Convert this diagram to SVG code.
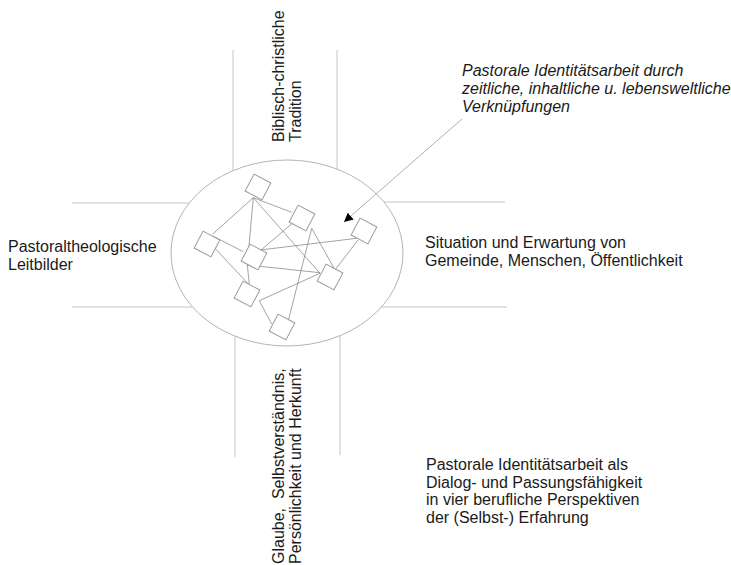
<svg xmlns="http://www.w3.org/2000/svg" width="731" height="565" viewBox="0 0 731 565">
<style>
.t{font-family:"Liberation Sans",Arial,sans-serif;font-size:16px;fill:#1a1a1a}
.i{font-style:italic}
.axis{stroke:#c4c4c4;stroke-width:1;fill:none}
.hub{stroke:#b4b4b4;stroke-width:1;fill:#fff}
.sq{stroke:#9a9a9a;stroke-width:1;fill:#fff}
.link{stroke:#8c8c8c;stroke-width:0.8;fill:none}
.arr{stroke:#b0b0b0;stroke-width:1;fill:none}
</style>
<defs>
<marker id="ah" viewBox="0 0 10 10" refX="10" refY="5" markerWidth="9" markerHeight="9" markerUnits="userSpaceOnUse" orient="auto">
<path d="M0,0 L10,5 L0,10 z" fill="#000"/>
</marker>
</defs>
<rect width="731" height="565" fill="#fff"/>
<g id="axes">
<line class="axis" x1="233" y1="50" x2="233" y2="170.7"/>
<line class="axis" x1="337" y1="50" x2="337" y2="169"/>
<line class="axis" x1="235" y1="336" x2="235" y2="457"/>
<line class="axis" x1="340" y1="336" x2="340" y2="455"/>
<line class="axis" x1="72" y1="203" x2="189" y2="203"/>
<line class="axis" x1="72" y1="307" x2="192.6" y2="307"/>
<line class="axis" x1="384" y1="202" x2="505" y2="202"/>
<line class="axis" x1="381.4" y1="307" x2="507" y2="307"/>
</g>
<g id="hub">
<ellipse class="hub" cx="287" cy="253" rx="116" ry="93"/>
</g>
<g id="connectors">
<line class="link" x1="253.3" y1="197.7" x2="212.7" y2="234"/>
<line class="link" x1="253.3" y1="197.7" x2="247.3" y2="265"/>
<line class="link" x1="247.3" y1="265" x2="249.3" y2="284"/>
<line class="link" x1="253.3" y1="197.7" x2="291.7" y2="212.3"/>
<line class="link" x1="253.3" y1="197.7" x2="320" y2="273.3"/>
<line class="link" x1="294" y1="222" x2="261" y2="250"/>
<line class="link" x1="311.7" y1="228.3" x2="288.3" y2="320.7"/>
<line class="link" x1="311.7" y1="228.3" x2="335" y2="270"/>
<line class="link" x1="356.7" y1="238.3" x2="260" y2="250"/>
<line class="link" x1="358" y1="240" x2="335" y2="270"/>
<line class="link" x1="212.7" y1="236" x2="243.3" y2="251.7"/>
<line class="link" x1="215" y1="248.3" x2="249.3" y2="285"/>
<line class="link" x1="247.3" y1="265" x2="320" y2="272.7"/>
<line class="link" x1="320" y1="273.3" x2="259.3" y2="300.7"/>
<line class="link" x1="259.3" y1="300.7" x2="271.7" y2="324"/>
<line class="arr" x1="462" y1="119" x2="344" y2="222" marker-end="url(#ah)"/>
</g>
<g id="sq1"><rect class="sq" x="-9.5" y="-9.5" width="19" height="19" transform="translate(258 187) rotate(28)"/></g>
<g id="sq2"><rect class="sq" x="-9.5" y="-9.5" width="19" height="19" transform="translate(302 218) rotate(28)"/></g>
<g id="sq3"><rect class="sq" x="-9.5" y="-9.5" width="19" height="19" transform="translate(364 231) rotate(28)"/></g>
<g id="sq4"><rect class="sq" x="-9.5" y="-9.5" width="19" height="19" transform="translate(207 244) rotate(28)"/></g>
<g id="sq5"><rect class="sq" x="-9.5" y="-9.5" width="19" height="19" transform="translate(254 257) rotate(28)"/></g>
<g id="sq6"><rect class="sq" x="-9.5" y="-9.5" width="19" height="19" transform="translate(330 277) rotate(28)"/></g>
<g id="sq7"><rect class="sq" x="-9.5" y="-9.5" width="19" height="19" transform="translate(247 294) rotate(28)"/></g>
<g id="sq8"><rect class="sq" x="-9.5" y="-9.5" width="19" height="19" transform="translate(282 327) rotate(28)"/></g>
<g id="label-top">
<text class="t" transform="translate(284 142) rotate(-90)"><tspan x="0" y="0">Biblisch-christliche</tspan><tspan x="0" y="17">Tradition</tspan></text>
</g>
<g id="label-bottom">
<text class="t" xml:space="preserve" transform="translate(284 564) rotate(-90)"><tspan x="0" y="0">Glaube,  Selbstverständnis,</tspan><tspan x="0" y="17">Persönlichkeit und Herkunft</tspan></text>
</g>
<g id="label-left">
<text class="t"><tspan x="8" y="252">Pastoraltheologische</tspan><tspan x="8" y="270">Leitbilder</tspan></text>
</g>
<g id="label-right">
<text class="t"><tspan x="425" y="248">Situation und Erwartung von</tspan><tspan x="425" y="266">Gemeinde, Menschen, Öffentlichkeit</tspan></text>
</g>
<g id="label-annotation">
<text class="t i"><tspan x="462" y="76">Pastorale Identitätsarbeit durch</tspan><tspan x="462" y="94">zeitliche, inhaltliche u. lebensweltliche</tspan><tspan x="462" y="112">Verknüpfungen</tspan></text>
</g>
<g id="label-caption">
<text class="t"><tspan x="426" y="470">Pastorale Identitätsarbeit als</tspan><tspan x="426" y="487.5">Dialog- und Passungsfähigkeit</tspan><tspan x="426" y="505">in vier berufliche Perspektiven</tspan><tspan x="426" y="522.5">der (Selbst-) Erfahrung</tspan></text>
</g>
</svg>
